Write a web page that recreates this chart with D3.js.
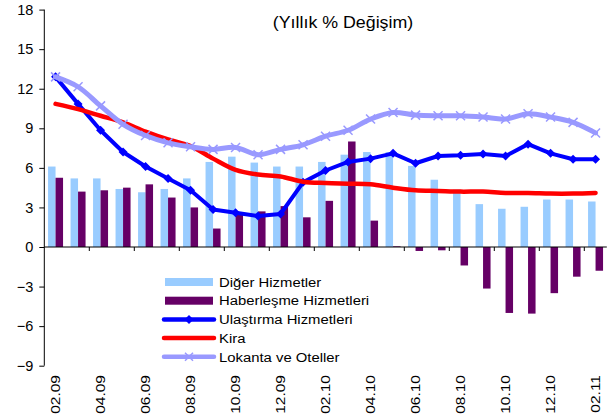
<!DOCTYPE html>
<html>
<head>
<meta charset="utf-8">
<script src="https://cdn.jsdelivr.net/npm/d3@7/dist/d3.min.js"></script>
<style>
  html, body { margin: 0; padding: 0; background: #fff; }
  svg { display: block; font-family: Arial, "Liberation Sans", sans-serif; }
</style>
</head>
<body>
<svg id="chart" width="608" height="414"></svg>
<script>
// Monthly categories 02.09 .. 02.11
const months = ['02.09','03.09','04.09','05.09','06.09','07.09','08.09','09.09','10.09','11.09','12.09','01.10',
  '02.10','03.10','04.10','05.10','06.10','07.10','08.10','09.10','10.10','11.10','12.10','01.11','02.11'];
const tickLabels = ['02.09','04.09','06.09','08.09','10.09','12.09','02.10','04.10','06.10','08.10','10.10','12.10','02.11'];
const yTicks = [-9, -6, -3, 0, 3, 6, 9, 12, 15, 18];

const digerHizmetler = [6.1, 5.2, 5.2, 4.4, 4.15, 4.4, 5.2, 6.45, 6.85, 6.4, 6.1, 6.1,
  6.45, 7.0, 7.2, 7.2, 6.15, 5.1, 4.35, 3.25, 2.9, 3.05, 3.6, 3.6, 3.45];
const haberlesme = [5.25, 4.2, 4.3, 4.5, 4.75, 3.75, 3.0, 1.4, 2.5, 2.7, 3.1, 2.25,
  3.5, 8.0, 2.0, 0.05, -0.3, -0.25, -1.4, -3.15, -5.0, -5.05, -3.5, -2.25, -1.8];
const ulastirma = [12.9, 10.85, 8.85, 7.2, 6.1, 5.2, 4.3, 2.85, 2.6, 2.35, 2.5, 4.9,
  5.8, 6.45, 6.7, 7.1, 6.35, 6.9, 6.95, 7.05, 6.9, 7.8, 7.1, 6.65, 6.65];
const kira = [10.85, 10.45, 9.95, 9.45, 8.75, 8.15, 7.65, 6.7, 5.85, 5.5, 5.35, 4.95,
  4.85, 4.8, 4.75, 4.5, 4.3, 4.25, 4.2, 4.2, 4.1, 4.1, 4.05, 4.05, 4.1];
const lokanta = [12.9, 12.15, 10.7, 9.3, 8.45, 7.9, 7.6, 7.4, 7.55, 7.0, 7.4, 7.75,
  8.4, 8.85, 9.7, 10.2, 10.0, 9.95, 9.95, 9.85, 9.7, 10.1, 9.85, 9.45, 8.65];

const svg = d3.select('#chart');

const x = d3.scaleBand().domain(months).range([44.3, 606.8]).padding(0);
const y = d3.scaleLinear().domain([-9, 18]).range([365.7, 9.6]);
const bw = x.bandwidth();
const barW = bw / 3;
const cx = (m) => x(m) + bw / 2;

// bars
const bars = svg.append('g');
bars.selectAll('rect.diger').data(months).join('rect')
  .attr('x', (m) => x(m) + barW / 2)
  .attr('width', barW)
  .attr('y', (m, i) => y(Math.max(0, digerHizmetler[i])))
  .attr('height', (m, i) => Math.abs(y(digerHizmetler[i]) - y(0)))
  .attr('fill', '#99ccff');
bars.selectAll('rect.haber').data(months).join('rect')
  .attr('x', (m) => x(m) + barW * 1.5)
  .attr('width', barW)
  .attr('y', (m, i) => y(Math.max(0, haberlesme[i])))
  .attr('height', (m, i) => Math.abs(y(haberlesme[i]) - y(0)))
  .attr('fill', '#660066');

// axes
const yAxis = svg.append('g').attr('transform', `translate(${x.range()[0]},0)`)
  .call(d3.axisLeft(y).tickValues(yTicks).tickSize(5).tickPadding(6));
yAxis.select('.domain').attr('stroke', '#000').attr('d', `M0,${y(18)}V${y(-9)}`);
yAxis.selectAll('text').attr('font-size', 14.5).attr('fill', '#000').attr('font-family', 'Arial, "Liberation Sans", sans-serif');

const xg = svg.append('g');
xg.append('line').attr('x1', x.range()[0]).attr('x2', x.range()[1])
  .attr('y1', y(0)).attr('y2', y(0)).attr('stroke', '#000');
xg.selectAll('line.tick').data(months.filter((m, i) => i % 2 === 0 && i > 0)).join('line')
  .attr('x1', (m) => x(m)).attr('x2', (m) => x(m))
  .attr('y1', y(0)).attr('y2', y(0) + 4).attr('stroke', '#000');
// labels are a bit stretched along the text direction in the original
xg.selectAll('text').data(tickLabels).join('text')
  .attr('transform', (m) => `translate(${cx(m)},375) rotate(-90) scale(1.15,1)`)
  .attr('text-anchor', 'end').attr('dy', '0.35em')
  .attr('font-size', 13.5).text((m) => m);

// lines
function drawLine(values, color, width, curve) {
  const line = d3.line().x((d, i) => cx(months[i])).y((d) => y(d)).curve(curve);
  const g = svg.append('g');
  g.append('path').datum(values).attr('d', line)
    .attr('fill', 'none').attr('stroke', color).attr('stroke-width', width)
    .attr('stroke-linejoin', 'round').attr('stroke-linecap', 'round');
  return g;
}

const ulasG = drawLine(ulastirma, '#0000ff', 4, d3.curveLinear);
ulasG.selectAll('path.m').data(ulastirma).join('path')
  .attr('transform', (d, i) => `translate(${cx(months[i])},${y(d)})`)
  .attr('d', 'M0,-4.5L4.5,0L0,4.5L-4.5,0Z').attr('fill', '#0000ff');

drawLine(kira, '#ff0000', 4.5, d3.curveCatmullRom);

const lokG = drawLine(lokanta, '#9999ff', 5, d3.curveCatmullRom);
lokG.selectAll('path.m').data(lokanta).join('path')
  .attr('transform', (d, i) => `translate(${cx(months[i])},${y(d)})`)
  .attr('d', 'M-4.5,-4.5L4.5,4.5M-4.5,4.5L4.5,-4.5')
  .attr('stroke', '#9999ff').attr('stroke-width', 1.5).attr('fill', 'none');

// title
svg.append('text').attr('transform', 'translate(343,28) scale(1.08,1)').attr('text-anchor', 'middle')
  .attr('font-size', 16.5).text('(Yıllık % Değişim)');

// legend
const legendItems = [
  { name: 'Diğer Hizmetler', kind: 'bar', color: '#99ccff' },
  { name: 'Haberleşme Hizmetleri', kind: 'bar', color: '#660066' },
  { name: 'Ulaştırma Hizmetleri', kind: 'line', color: '#0000ff', marker: 'diamond' },
  { name: 'Kira', kind: 'line', color: '#ff0000' },
  { name: 'Lokanta ve Oteller', kind: 'line', color: '#9999ff', marker: 'x' },
];
const legend = svg.append('g').attr('transform', 'translate(164,282)');
legendItems.forEach((item, i) => {
  const g = legend.append('g').attr('transform', `translate(0,${i * 18.7})`);
  if (item.kind === 'bar') {
    g.append('rect').attr('x', 1).attr('y', -4).attr('width', 48).attr('height', 8).attr('fill', item.color);
  } else {
    g.append('line').attr('x1', 0).attr('x2', 50).attr('stroke', item.color)
      .attr('stroke-width', 4.5).attr('stroke-linecap', 'round');
    if (item.marker === 'diamond') {
      g.append('path').attr('transform', 'translate(25,0)').attr('d', 'M0,-4.5L4.5,0L0,4.5L-4.5,0Z').attr('fill', item.color);
    } else if (item.marker === 'x') {
      g.append('path').attr('transform', 'translate(25,0)').attr('d', 'M-4,-4L4,4M-4,4L4,-4')
        .attr('stroke', item.color).attr('stroke-width', 1.5);
    }
  }
  g.append('text').attr('transform', 'translate(55,0) scale(1.1,1)').attr('dy', '0.35em')
    .attr('font-size', 13.5).text(item.name);
});
</script>
</body>
</html>
